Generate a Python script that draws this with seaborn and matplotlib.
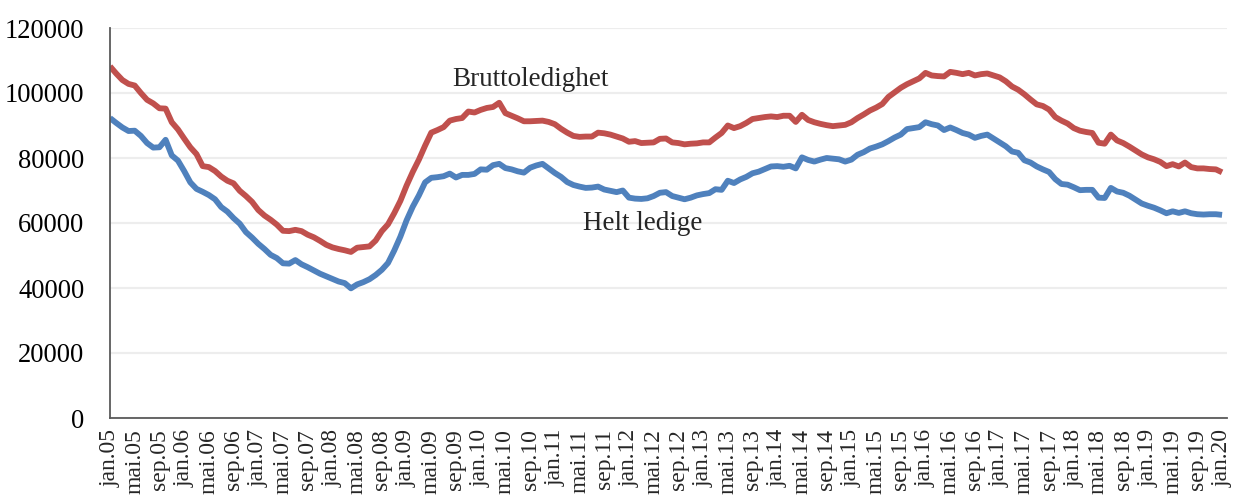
import numpy as np
import pandas as pd
import matplotlib
matplotlib.use("Agg")
import matplotlib.pyplot as plt
import seaborn as sns

# Monthly data jan.05 - jan.20 (thousands of persons)
bruttoledighet = [
    108.2, 106.0, 104.0, 102.8, 102.3, 100.0, 97.9, 96.8, 95.3, 95.2,
    91.0, 88.8, 86.0, 83.3, 81.2, 77.5, 77.2, 76.0, 74.3, 73.0,
    72.2, 69.9, 68.3, 66.5, 64.0, 62.3, 61.0, 59.5, 57.6, 57.5,
    57.9, 57.5, 56.4, 55.6, 54.5, 53.3, 52.5, 52.0, 51.6, 51.1,
    52.4, 52.6, 52.8, 54.6, 57.5, 59.6, 63.0, 66.8, 71.5, 75.7,
    79.5, 83.8, 87.8, 88.6, 89.5, 91.5, 92.0, 92.3, 94.3, 94.0,
    94.8, 95.4, 95.7, 97.0, 93.8, 93.0, 92.2, 91.3, 91.3, 91.4,
    91.5, 91.1, 90.4, 89.0, 87.8, 86.8, 86.5, 86.6, 86.6, 87.8,
    87.6, 87.2, 86.6, 86.0, 85.0, 85.2, 84.6, 84.7, 84.8, 85.9,
    86.0, 84.8, 84.6, 84.2, 84.4, 84.5, 84.8, 84.8, 86.3, 87.7,
    90.0, 89.2, 89.8, 90.8, 92.0, 92.3, 92.6, 92.8, 92.6, 93.0,
    93.0, 91.1, 93.3, 91.7, 91.0, 90.5, 90.1, 89.8, 90.0, 90.2,
    91.0, 92.3, 93.4, 94.6, 95.5, 96.6, 98.8, 100.2, 101.6, 102.7,
    103.6, 104.5, 106.2, 105.4, 105.2, 105.1, 106.5, 106.2, 105.8, 106.2,
    105.4, 105.8, 106.0, 105.4, 104.8, 103.6, 102.0, 101.0, 99.6, 98.0,
    96.5, 96.0, 94.9, 92.6, 91.5, 90.6, 89.2, 88.4, 88.0, 87.7,
    84.7, 84.4, 87.2, 85.4, 84.6, 83.5, 82.3, 81.1, 80.2, 79.6,
    78.8, 77.5, 78.1, 77.4, 78.6, 77.2, 76.8, 76.8, 76.6, 76.5,
    75.6,
]
helt_ledige = [
    92.3, 90.8, 89.4, 88.3, 88.4, 86.8, 84.6, 83.2, 83.3, 85.6,
    80.8, 79.2, 76.0, 72.5, 70.5, 69.6, 68.6, 67.3, 64.9, 63.5,
    61.5, 59.8, 57.2, 55.5, 53.6, 52.0, 50.2, 49.2, 47.6, 47.5,
    48.6, 47.3, 46.4, 45.4, 44.4, 43.6, 42.8, 42.0, 41.5, 39.9,
    41.1, 41.8, 42.7, 44.0, 45.6, 47.7, 51.5, 55.8, 60.8, 65.0,
    68.5, 72.5, 73.9, 74.1, 74.4, 75.2, 74.0, 74.8, 74.8, 75.1,
    76.5, 76.4, 77.8, 78.2, 76.9, 76.5, 75.9, 75.5, 77.0, 77.7,
    78.2, 76.8, 75.4, 74.2, 72.6, 71.7, 71.2, 70.8, 70.9, 71.2,
    70.3, 69.9, 69.5, 70.0, 67.8, 67.5, 67.4, 67.6, 68.3, 69.3,
    69.5, 68.3, 67.8, 67.3, 67.8, 68.5, 68.9, 69.2, 70.4, 70.2,
    73.0, 72.3, 73.4, 74.2, 75.3, 75.8, 76.6, 77.4, 77.5, 77.3,
    77.6, 76.8, 80.2, 79.4, 78.9, 79.5, 80.0, 79.8, 79.6, 78.9,
    79.5, 81.0, 81.8, 82.9, 83.5, 84.2, 85.2, 86.3, 87.2, 88.9,
    89.2, 89.5, 91.0, 90.4, 90.0, 88.6, 89.4, 88.6, 87.7, 87.2,
    86.2, 86.8, 87.2, 86.0, 84.8, 83.6, 82.0, 81.6, 79.3, 78.6,
    77.4, 76.5, 75.7, 73.5, 72.0, 71.8, 71.0, 70.1, 70.2, 70.2,
    67.8, 67.7, 70.8, 69.7, 69.3, 68.4, 67.2, 66.0, 65.3, 64.7,
    63.9, 63.0, 63.6, 63.1, 63.6, 63.0, 62.7, 62.6, 62.7, 62.7,
    62.5,
]
month_names = ["jan", "feb", "mar", "apr", "mai", "jun",
               "jul", "aug", "sep", "okt", "nov", "des"]
start_year = 5
series_names = ["Bruttoledighet", "Helt ledige"]
series_colors = ["#C0504D", "#4F81BD"]
y_ticks = [0, 20000, 40000, 60000, 80000, 100000, 120000]

n = len(bruttoledighet)
labels = [f"{month_names[i % 12]}.{start_year + i // 12:02d}" for i in range(n)]

df = pd.DataFrame({
    "idx": list(range(n)) * 2,
    "verdi": [v * 1000 for v in bruttoledighet] + [v * 1000 for v in helt_ledige],
    "serie": [series_names[0]] * n + [series_names[1]] * n,
})

sns.set_theme(style="white")
plt.rcParams["font.family"] = ["Liberation Serif", "DejaVu Serif"]

fig = plt.figure(figsize=(12.36, 5.04), dpi=100)
ax = fig.add_axes([110 / 1236, 1 - 418 / 504, (1227 - 110) / 1236, (418 - 28) / 504])

sns.lineplot(data=df, x="idx", y="verdi", hue="serie", palette=series_colors,
             hue_order=series_names, linewidth=4.2, legend=False, ax=ax,
             solid_capstyle="butt")

ax.set_xlim(0, n - 1 + 0.8)
ax.set_ylim(0, 120000)
ax.set_yticks(y_ticks)
ax.set_yticklabels([str(v) for v in y_ticks], fontsize=19.2)
ax.yaxis.grid(True, color="#ededed", linewidth=1.6)
ax.set_axisbelow(True)

tick_pos = list(range(0, n, 4))
ax.set_xticks(tick_pos)
ax.set_xticklabels([labels[i] for i in tick_pos], rotation=90, fontsize=17,
                   va="top", ha="center")
ax.set_xlabel("")
ax.set_ylabel("")

for s in ["top", "right"]:
    ax.spines[s].set_visible(False)
for s in ["left", "bottom"]:
    ax.spines[s].set_color("#5a5a5a")
    ax.spines[s].set_linewidth(1.3)
ax.tick_params(axis="y", length=0, pad=18.5, colors="black")
ax.tick_params(axis="x", length=6, width=1.3, color="#5a5a5a", pad=2, direction="out")

ax.text(68, 104000, "Bruttoledighet", fontsize=19.5, ha="center", va="center")
ax.text(86.3, 59800, "Helt ledige", fontsize=19.5, ha="center", va="center")

fig.savefig("out.png", dpi=100)
